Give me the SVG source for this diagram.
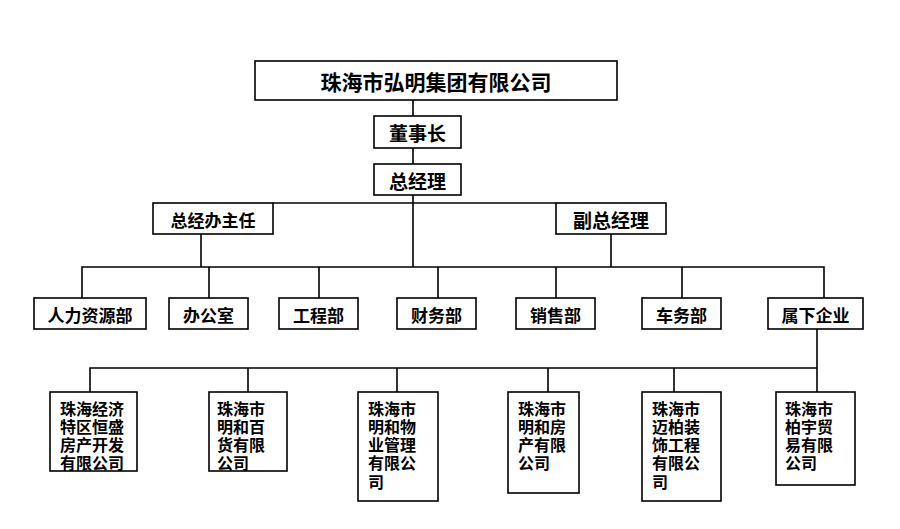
<svg xmlns="http://www.w3.org/2000/svg" width="900" height="529" viewBox="0 0 900 529">
<style>
.box{fill:#fff;stroke:#000;stroke-width:1.6}
.ln{fill:none;stroke:#000;stroke-width:1.6}
text{font-family:"Noto Sans CJK SC","Noto Sans",sans-serif;font-weight:bold;fill:#000;dominant-baseline:central}
.c{text-anchor:middle}
.t1{font-size:21px}
.t2{font-size:19px}
.t3{font-size:17px}
.t4{font-size:16px}
</style>
<rect width="900" height="529" fill="#fff"/>
<g id="connectors">
<path class="ln" d="M413 100V116M413 148V164M413 195V267"/>
<path class="ln" d="M273 203H556"/>
<path class="ln" d="M201 234V267M611 234V267"/>
<path class="ln" d="M82 298V267H824V298"/>
<path class="ln" d="M209 267V298M319 267V298M438 267V298M556 267V298M682 267V298"/>
<path class="ln" d="M817 329V392"/>
<path class="ln" d="M90 392V368H817"/>
<path class="ln" d="M248 368V392M397 368V392M548 368V392M674 368V392"/>
</g>
<g id="n-group"><rect class="box" x="255" y="61" width="362" height="39"/><text class="c t1" x="436" y="80.5">珠海市弘明集团有限公司</text></g>
<g id="n-chairman"><rect class="box" x="374" y="116" width="87" height="32"/><text class="c t2" x="417.5" y="132">董事长</text></g>
<g id="n-gm"><rect class="box" x="374" y="164" width="87" height="31"/><text class="c t2" x="417.5" y="180">总经理</text></g>
<g id="n-office-dir"><rect class="box" x="153" y="203" width="120" height="31"/><text class="c t3" x="213" y="219">总经办主任</text></g>
<g id="n-vgm"><rect class="box" x="556" y="203" width="110" height="31"/><text class="c t2" x="611" y="219">副总经理</text></g>
<g id="n-hr"><rect class="box" x="34" y="298" width="112" height="31"/><text class="c t3" x="90" y="314">人力资源部</text></g>
<g id="n-office"><rect class="box" x="169" y="298" width="79" height="31"/><text class="c t3" x="208.5" y="314">办公室</text></g>
<g id="n-eng"><rect class="box" x="279" y="298" width="79" height="31"/><text class="c t3" x="318.5" y="314">工程部</text></g>
<g id="n-fin"><rect class="box" x="397" y="298" width="79" height="31"/><text class="c t3" x="436.5" y="314">财务部</text></g>
<g id="n-sales"><rect class="box" x="516" y="298" width="79" height="31"/><text class="c t3" x="555.5" y="314">销售部</text></g>
<g id="n-vehicle"><rect class="box" x="642" y="298" width="79" height="31"/><text class="c t3" x="681.5" y="314">车务部</text></g>
<g id="n-subs"><rect class="box" x="768" y="298" width="95" height="31"/><text class="c t3" x="815.5" y="314">属下企业</text></g>
<g id="n-c1"><rect class="box" x="50" y="392" width="87" height="79"/><text class="t4" x="60"><tspan x="60" y="407.5">珠海经济</tspan><tspan x="60" y="425.8">特区恒盛</tspan><tspan x="60" y="444.1">房产开发</tspan><tspan x="60" y="462.4">有限公司</tspan></text></g>
<g id="n-c2"><rect class="box" x="209" y="392" width="78" height="79"/><text class="t4" x="217"><tspan x="217" y="407.5">珠海市</tspan><tspan x="217" y="425.8">明和百</tspan><tspan x="217" y="444.1">货有限</tspan><tspan x="217" y="462.4">公司</tspan></text></g>
<g id="n-c3"><rect class="box" x="358" y="392" width="80" height="109"/><text class="t4" x="368"><tspan x="368" y="407.5">珠海市</tspan><tspan x="368" y="425.8">明和物</tspan><tspan x="368" y="444.1">业管理</tspan><tspan x="368" y="462.4">有限公</tspan><tspan x="368" y="480.7">司</tspan></text></g>
<g id="n-c4"><rect class="box" x="508" y="392" width="71" height="101"/><text class="t4" x="518"><tspan x="518" y="407.5">珠海市</tspan><tspan x="518" y="425.8">明和房</tspan><tspan x="518" y="444.1">产有限</tspan><tspan x="518" y="462.4">公司</tspan></text></g>
<g id="n-c5"><rect class="box" x="642" y="392" width="79" height="109"/><text class="t4" x="652"><tspan x="652" y="407.5">珠海市</tspan><tspan x="652" y="425.8">迈柏装</tspan><tspan x="652" y="444.1">饰工程</tspan><tspan x="652" y="462.4">有限公</tspan><tspan x="652" y="480.7">司</tspan></text></g>
<g id="n-c6"><rect class="box" x="776" y="392" width="79" height="93"/><text class="t4" x="785"><tspan x="785" y="407.5">珠海市</tspan><tspan x="785" y="425.8">柏宇贸</tspan><tspan x="785" y="444.1">易有限</tspan><tspan x="785" y="462.4">公司</tspan></text></g>
</svg>
